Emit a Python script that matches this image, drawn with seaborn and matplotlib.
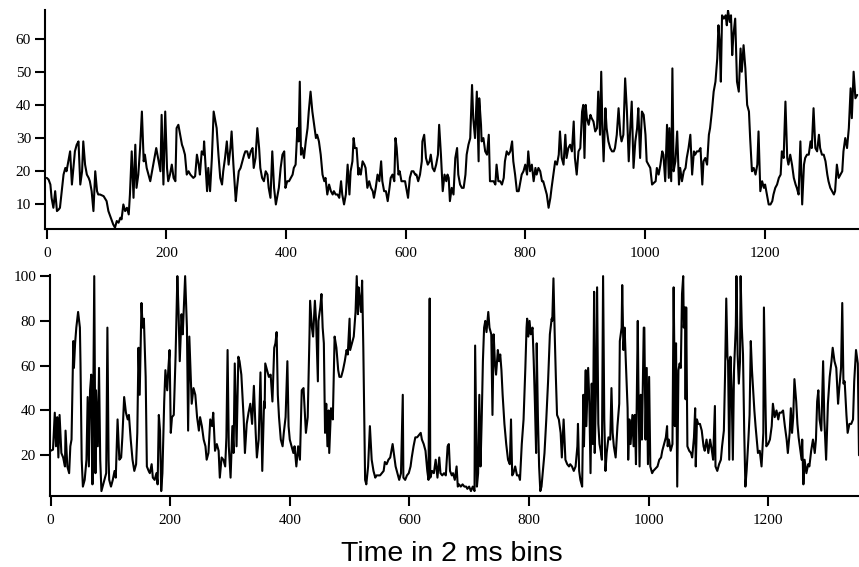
import matplotlib
matplotlib.use("Agg")
import matplotlib.pyplot as plt
import seaborn as sns
import numpy as np

# ---------------- data: top trace (time bins, values) ----------------
top_t = [
    0, 3, 6, 8, 11, 14, 17, 20, 22, 25,
    28, 31, 33, 36, 39, 42, 45, 47, 50, 53,
    56, 59, 61, 64, 67, 70, 72, 75, 78, 81,
    84, 86, 89, 95, 100, 103, 106, 109, 111, 114,
    117, 120, 123, 125, 128, 131, 134, 137, 139, 142,
    145, 148, 150, 153, 156, 159, 162, 164, 167, 170,
    173, 176, 178, 181, 183, 187, 190, 192, 195, 198,
    201, 203, 206, 209, 212, 215, 217, 220, 223, 226,
    228, 231, 234, 237, 240, 245, 248, 251, 254, 256,
    259, 262, 263, 266, 268, 270, 273, 276, 279, 281,
    284, 287, 290, 293, 295, 298, 301, 304, 307, 309,
    312,
    316, 318, 321, 324, 327, 330, 332, 335, 338, 341,
    344, 346, 349, 352, 355, 357, 360, 363, 366, 369,
    371, 374, 377, 380, 383, 385, 388, 391, 394, 397,
    399, 402, 405, 408, 411, 413, 416, 419, 421, 423,
    425, 427, 430, 433, 436, 438, 441, 444, 447, 450,
    452, 455, 458, 461, 464, 466, 469, 472, 475, 478,
    480, 483, 486, 489, 492, 494, 497, 500, 503, 506,
    508, 511, 513, 515, 518, 521, 522, 525, 528, 531,
    533, 536, 539, 542, 545, 547, 550, 553, 556, 559,
    561, 564, 567, 570, 573, 575, 578, 581, 583, 585,
    588, 590, 593, 596, 599, 602, 604, 607, 610, 613,
    616, 618, 621, 624, 627, 628, 631, 634, 637, 640,
    642, 645, 648, 651, 654, 656, 659, 662, 665, 668,
    670,
    672, 674, 677, 680, 683, 686, 688, 691, 694, 697,
    700, 702, 705, 708, 711, 713, 716, 719, 722, 723,
    726, 727, 730, 733, 736, 739, 741, 744, 747, 750,
    752, 755, 758, 761, 764, 766, 769, 772, 775, 778,
    780, 783, 786, 789, 791, 794, 797, 800, 803, 805,
    808, 811, 814, 817, 819, 822, 825, 828, 830, 833,
    836, 839, 842, 844, 847, 850, 853, 856, 858, 861,
    864, 867, 869, 872, 875, 878, 881, 883, 886, 889,
    892, 895, 897, 899, 901, 903, 906, 909, 911, 914,
    917, 920, 922, 925, 927, 929, 931, 934, 936, 939,
    942, 945, 948, 950, 953, 956, 959, 961, 964, 967,
    970, 973, 975, 978, 981, 984, 987, 989, 992, 995,
    998, 1001, 1003, 1006, 1009, 1012,
    1018, 1020, 1023, 1026, 1029, 1031, 1034, 1037, 1040, 1041,
    1044, 1046, 1048, 1051, 1054, 1057, 1059, 1062, 1065, 1068,
    1070, 1073, 1076, 1079, 1082, 1084, 1087, 1090, 1093, 1096,
    1098, 1101, 1104, 1107, 1109, 1112, 1115, 1118, 1121, 1123,
    1125, 1127, 1129, 1132, 1135, 1137, 1139, 1142, 1144, 1146,
    1148, 1151, 1154, 1157, 1160, 1162, 1165, 1168, 1171, 1174,
    1176, 1179, 1182, 1185, 1188, 1190, 1193, 1196, 1199, 1201,
    1204, 1207, 1210, 1213, 1215, 1218, 1221, 1224, 1227, 1229,
    1232, 1235, 1238, 1240, 1243, 1246, 1249, 1252, 1254, 1257,
    1260, 1263, 1266, 1268, 1271, 1274, 1277, 1279, 1282, 1285,
    1288, 1291, 1293, 1296, 1299, 1302, 1305, 1307, 1310, 1313,
    1316, 1318, 1321, 1324, 1327, 1330, 1332, 1335, 1338, 1341,
    1344, 1346, 1349, 1352, 1355,
]
top_v = [
    18, 17.5, 16, 12, 9, 14, 8, 8.5, 9, 14,
    19, 21, 20, 23, 26, 16, 22, 26, 28, 29,
    16, 20, 29, 22, 19, 18, 17, 14, 8, 20,
    14, 13, 13, 12.5, 11, 8, 6.5, 5, 4, 3,
    5, 4.5, 6, 5.5, 10, 8, 9, 7, 13, 26,
    12, 28, 15, 19, 27, 38, 23, 25, 21, 19,
    17, 20, 22, 25, 27, 23, 20, 37, 16, 38,
    21, 17, 19, 22, 18, 17, 33, 34, 31, 28,
    27, 25, 19, 20, 19, 18, 18.5, 25, 22, 19,
    26, 25, 29, 20, 14, 21, 14, 24, 38, 36,
    33, 25, 18, 16, 20, 24, 29, 22, 27, 32,
    22,
    11, 15, 20, 21, 23, 25, 26, 26, 24, 26,
    27, 21, 24, 33, 27, 21, 18, 17, 20, 19,
    15, 12, 26, 15, 10, 12, 15, 21, 25, 26,
    15, 17, 17, 18, 19, 21, 22, 33, 29, 47,
    25, 27, 24, 29, 33, 38, 44, 38, 34, 30,
    31, 29, 25, 19, 17, 18, 13, 16, 14, 13,
    14, 13, 13, 12, 17, 13, 10, 13, 22, 13,
    20, 23, 30, 27, 27, 19, 21, 19, 23, 22,
    21, 15, 17, 15, 14, 12, 15, 19, 17, 23,
    17, 14, 14, 11, 15, 18, 19, 17, 30, 27,
    19, 20, 17, 17, 17, 14, 12, 18, 20, 20,
    19, 19, 17, 19, 23, 29, 31, 24, 22, 23,
    25, 21, 20, 22, 25, 34, 25, 14, 19, 17,
    19,
    18, 11, 15, 13, 24, 27, 19, 16, 15, 15,
    19, 25, 28, 30, 46, 36, 30, 44, 23, 42,
    34, 29, 30, 26, 25, 31, 17, 17, 17, 16,
    22, 17, 17, 16, 18, 23, 26, 25, 26, 29,
    23, 19, 14, 14, 16, 19, 20, 22, 19, 26,
    20, 22, 17, 21, 19, 21, 20, 17, 17, 15,
    13, 9, 12, 15, 19, 23, 22, 25, 32, 24,
    22, 31, 24, 27, 28, 26, 35, 24, 19, 26,
    27, 38, 40, 24, 40, 36, 34, 37, 36, 35,
    32, 33, 44, 31, 50, 33, 23, 39, 33, 29,
    27, 26, 26, 27, 31, 39, 31, 29, 31, 48,
    38, 23, 31, 41, 21, 29, 33, 39, 24, 38,
    37, 31, 23, 22, 21, 16,
    17, 21, 19, 22, 26, 25, 17, 34, 18, 33,
    17, 51, 20, 23, 32, 16, 21, 17, 20, 21,
    24, 27, 31, 19, 26, 25, 26, 26, 27, 16,
    23, 24, 22, 31, 33, 38, 44, 47, 54, 64,
    59, 47, 67, 66, 67, 64, 68.5, 65, 67, 55,
    61, 66, 47, 44, 57, 50, 58, 51, 40, 38,
    30, 20, 21, 19, 22, 32, 14, 17, 15, 16,
    13, 10, 10, 11, 13, 15, 16, 18, 19, 26,
    24, 41, 24, 22, 25, 22, 18, 16, 15, 13,
    29, 10, 22, 24, 25, 25, 29, 27, 39, 27,
    26, 31, 27, 25, 25, 23, 19, 17, 15, 14,
    13, 14, 22, 18, 19, 20, 26, 30, 27, 33,
    45, 36, 50, 42, 43,
]

# ---------------- data: bottom trace (time bins, values) ----------------
bot_t = [
    0, 4, 7, 9, 11, 13, 15, 18, 21, 24,
    25, 28, 31, 33, 35, 38, 39, 41, 43, 46,
    49, 50, 52, 54, 57, 60, 62, 64, 66, 68,
    70, 71, 73, 75, 76, 79, 81, 83, 85, 87,
    90, 93, 95, 97, 98, 101, 104, 107, 109, 112,
    115, 118, 120, 123, 126, 129, 131, 134, 137, 140,
    143, 145, 147, 149, 152, 154, 156, 159, 161, 164,
    166, 169, 171, 174, 177, 179, 181, 183, 185, 187,
    190, 192, 195, 197, 199, 201, 203, 206, 209, 212,
    214, 216, 219, 221, 223, 225, 228, 230, 232, 235,
    236, 239, 242, 245, 248, 250, 253, 256, 259, 261,
    264, 267, 270, 272, 275, 278, 281, 283, 286, 289,
    292, 294, 296, 298, 301, 304, 306, 308, 311, 314,
    316, 319,
    323, 325, 328, 331, 334, 337, 340, 343, 345, 348,
    351, 354, 357, 358, 359, 362, 365, 368, 371, 374,
    376, 378, 380, 382, 385, 388, 390, 393, 396, 398,
    400, 403, 406, 408, 411, 414, 417, 420, 423, 425,
    427, 430, 433, 434, 437, 439, 442, 444, 447, 448,
    451, 453, 455, 457, 459, 461, 463, 465, 466, 469,
    472, 475, 478, 481, 483, 486, 489, 492, 495, 497,
    500, 501, 504, 507, 510, 512, 514, 515, 517, 519,
    521, 523, 525, 526, 528, 531, 534, 537, 540, 543,
    545, 548, 551, 554, 557, 559, 562, 565, 568, 572,
    575, 577, 580, 583, 586, 589, 590, 593, 596, 599,
    602, 604, 607, 610, 613, 616, 619, 621, 624, 627,
    630, 632, 634, 635, 638, 641, 644, 647, 650, 652,
    655, 658, 661, 664, 666,
    668, 671, 673, 676, 679, 681, 683, 686, 689, 692,
    695, 697, 700, 703, 706, 709, 710, 713, 715, 717,
    719, 721, 723, 725, 727, 729, 732, 734, 737, 739,
    741, 743, 745, 748, 750, 752, 754, 756, 759, 762,
    765, 768, 770, 772, 774, 777, 780, 783, 785, 788,
    791, 794, 796, 797, 799, 801, 803, 806, 808, 810,
    812, 813, 815, 817, 819, 821, 824, 826, 829, 832,
    835, 838, 839, 841, 843, 845, 847, 850, 853, 855,
    858, 861, 864, 867, 869, 872, 875, 878, 881, 882,
    884, 886, 889, 891, 892, 895, 896, 899, 901, 903,
    905, 907, 909, 910, 912, 914, 916, 918, 920, 922,
    924, 926, 928, 930, 933, 936, 938, 940, 942, 945,
    948, 951, 952, 955, 956, 958, 960, 962, 965, 966,
    968, 970, 973, 975, 977, 979, 982, 983, 985, 987,
    989, 992, 993, 995, 997, 999, 1001, 1003, 1006, 1008,
    1015, 1018, 1021, 1023, 1026, 1029, 1031, 1032, 1034, 1037,
    1040, 1042, 1043, 1044, 1046, 1048, 1050, 1052, 1054, 1056,
    1058, 1059, 1061, 1062, 1063, 1065, 1068, 1071, 1073, 1076,
    1078, 1079, 1081, 1083, 1086, 1089, 1092, 1094, 1097, 1100,
    1103, 1106, 1108, 1111, 1112, 1115, 1118, 1121, 1123, 1126,
    1128, 1130, 1132, 1133, 1135, 1137, 1139, 1141, 1143, 1146,
    1147, 1149, 1151, 1153, 1154, 1156, 1158, 1160, 1162, 1164,
    1167, 1169, 1171, 1173, 1175, 1177, 1179, 1181, 1183, 1186,
    1189, 1192, 1193, 1196, 1197, 1200, 1203, 1206, 1208, 1211,
    1214, 1217, 1219, 1222, 1225, 1228, 1231, 1233, 1236, 1238,
    1240, 1242, 1244, 1247, 1249, 1251, 1253, 1256, 1257, 1259,
    1261, 1264, 1267, 1269, 1272, 1275, 1278, 1280, 1282, 1284,
    1286, 1289, 1292, 1294, 1297, 1300, 1303, 1306, 1308, 1311,
    1314, 1317, 1319, 1322, 1324, 1326, 1328, 1331, 1333, 1336,
    1339, 1342, 1344, 1347, 1350, 1352,
]
bot_v = [
    22, 22.5, 39, 24, 37, 19, 38, 21, 19, 15,
    31, 15, 12, 24, 27, 71, 59, 70, 77, 84,
    77, 61, 18, 6, 9, 18, 46, 15, 49, 56,
    7, 33, 100, 12, 49, 24, 59, 18, 4, 6,
    9, 12, 77, 18, 9, 6, 9, 13, 10, 36,
    18, 19, 28, 46, 39, 36, 38, 27, 18, 13,
    16, 30, 68, 47, 88, 77, 81, 55, 15, 13,
    12, 16, 10, 9, 12, 7, 38, 31, 4, 12,
    44, 58, 49, 59, 67, 30, 37, 38, 64, 100,
    84, 62, 83, 74, 87, 100, 77, 31, 73, 50,
    43, 50, 47, 37, 31, 37, 33, 27, 24, 18,
    21, 36, 33, 39, 22, 25, 22, 10, 19, 18,
    15, 28, 67, 24, 10, 33, 21, 61, 24, 64,
    62, 56,
    36, 21, 34, 39, 43, 34, 51, 30, 19, 27,
    57, 13, 44, 41, 61, 58, 55, 56, 44, 68,
    70, 75, 47, 37, 27, 24, 30, 37, 62, 33,
    27, 24, 21, 24, 15, 24, 18, 49, 50, 40,
    30, 37, 74, 89, 77, 73, 89, 80, 53, 80,
    86, 92, 77, 70, 30, 43, 24, 40, 21, 41,
    36, 73, 68, 58, 55, 55, 58, 62, 67, 65,
    81, 67, 70, 73, 84, 100, 83, 95, 90, 84,
    98, 68, 27, 9, 7, 15, 33, 18, 13, 10,
    11, 11, 11, 12, 13, 17, 16, 18, 19, 25,
    19, 15, 12, 9, 12, 47, 10, 9, 11, 12,
    15, 19, 24, 28, 28, 29, 30, 27, 25, 22,
    13, 9, 90, 10, 13, 12, 18, 10, 19, 12,
    11, 12, 11, 24, 25,
    13, 11, 12, 9, 15, 6, 7, 6, 7, 6,
    6, 5, 6, 4, 6, 4, 69, 6, 12, 47,
    15, 36, 62, 77, 80, 75, 84, 77, 74, 38,
    74, 62, 56, 67, 62, 65, 58, 47, 34, 25,
    18, 16, 36, 11, 12, 15, 11, 11, 9, 25,
    36, 59, 77, 81, 73, 80, 74, 77, 62, 43,
    21, 70, 37, 15, 4, 6, 15, 21, 36, 53,
    74, 81, 80, 99, 75, 55, 38, 36, 30, 19,
    36, 18, 16, 15, 16, 15, 13, 15, 24, 34,
    13, 9, 6, 47, 24, 58, 33, 59, 44, 12,
    52, 25, 93, 21, 47, 95, 34, 25, 22, 18,
    100, 36, 13, 21, 28, 27, 50, 30, 24, 19,
    33, 43, 71, 77, 96, 67, 77, 62, 41, 18,
    36, 25, 38, 24, 38, 16, 80, 53, 15, 47,
    27, 77, 77, 27, 59, 16, 55, 15, 12, 13,
    15, 18, 19, 22, 25, 28, 33, 24, 27, 22,
    25, 95, 70, 33, 70, 6, 58, 61, 59, 92,
    100, 77, 86, 45, 86, 24, 22, 21, 19, 28,
    41, 15, 36, 34, 34, 31, 24, 22, 27, 21,
    27, 22, 18, 42, 15, 13, 16, 18, 24, 31,
    56, 90, 64, 62, 18, 64, 50, 18, 58, 78,
    100, 65, 52, 62, 100, 77, 65, 31, 6, 13,
    27, 38, 71, 58, 49, 40, 33, 27, 21, 22,
    15, 30, 86, 37, 24, 25, 27, 33, 43, 37,
    40, 36, 39, 39, 40, 33, 27, 21, 30, 41,
    30, 37, 54, 44, 34, 28, 24, 18, 27, 7,
    18, 12, 16, 15, 22, 27, 21, 27, 44, 49,
    36, 31, 62, 36, 18, 43, 55, 62, 68, 62,
    59, 43, 50, 59, 88, 52, 53, 38, 30, 34,
    34, 36, 53, 67, 61, 20,
]

top_yticks = [10, 20, 30, 40, 50, 60]
bot_yticks = [20, 40, 60, 80, 100]
x_ticks = [0, 200, 400, 600, 800, 1000, 1200]
x_label = "Time in 2 ms bins"

# ---------------- figure ----------------
sns.set_theme(style="ticks")
plt.rcParams["font.family"] = ["Liberation Serif", "DejaVu Serif"]

fig = plt.figure(figsize=(8.59, 5.67), dpi=100)
ax1 = fig.add_axes([45 / 859, 1 - 229 / 567, 1 - 45 / 859, (229 - 10) / 567])
ax2 = fig.add_axes([50 / 859, 1 - 496 / 567, 1 - 50 / 859, (496 - 275) / 567])

sns.lineplot(x=np.array(top_t), y=np.array(top_v), ax=ax1, color="black",
             linewidth=1.5, estimator=None, sort=False)
sns.lineplot(x=np.array(bot_t), y=np.array(bot_v), ax=ax2, color="black",
             linewidth=1.5, estimator=None, sort=False)

ax1.set_xlim(-3, 1358)
ax1.set_ylim(2.6, 68.6)
ax2.set_xlim(-1, 1352)
ax2.set_ylim(1.8, 100.5)
ax1.set_yticks(top_yticks)
ax2.set_yticks(bot_yticks)

for ax in (ax1, ax2):
    ax.set_xticks(x_ticks)
    ax.set_xlabel("")
    ax.set_ylabel("")
    sns.despine(ax=ax)
    for s in ("left", "bottom"):
        ax.spines[s].set_linewidth(1.5)
        ax.spines[s].set_color("black")
    ax.tick_params(axis="both", direction="out", length=7, width=1.5,
                   color="black", labelsize=11, labelcolor="black")
    ax.tick_params(axis="y", pad=3)
    ax.tick_params(axis="x", pad=6)
    ax.grid(False)

fig.text(452 / 859, 1 - 554 / 567, x_label, ha="center", va="center",
         fontsize=20.5, family=["Liberation Sans", "DejaVu Sans"], color="black")

fig.savefig("out.png", dpi=100)
